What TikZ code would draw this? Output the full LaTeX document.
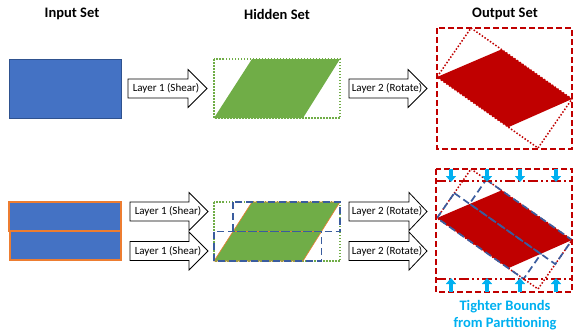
\documentclass[tikz,border=0pt]{standalone}
\usepackage{fontspec}
\setmainfont{Carlito}
\usetikzlibrary{arrows.meta}
\definecolor{inblue}{HTML}{4472C4}
\definecolor{inborder}{HTML}{2F528F}
\definecolor{orng}{HTML}{ED7D31}
\definecolor{grn}{HTML}{70AD47}
\definecolor{dred}{HTML}{C00000}
\definecolor{dblue}{HTML}{3A5C9E}
\definecolor{lblue}{HTML}{00B0F0}
\newcommand\blockarr[6]{%
  \draw[blockarrow] (#2,#5-9.5) -- (#3,#5-9.5) -- (#3,#5-19) -- (#4,#5) -- (#3,#5+19) -- (#3,#5+9.5) -- (#2,#5+9.5) -- cycle;
  \node[alabel] (#1) at (#2+38,#5) {#6};}
\begin{document}
\begin{tikzpicture}[x=1pt,y=-1pt,
  title/.style={font=\bfseries\fontsize{14.5}{17}\selectfont, inner sep=0pt},
  alabel/.style={font=\fontsize{11}{13}\selectfont, inner sep=0pt},
  blockarrow/.style={draw=black, fill=white, line width=0.8pt, line join=miter},
  inrect/.style={fill=inblue, draw=inborder, line width=0.6pt},
  inrectp/.style={fill=inblue, draw=orng, line width=1.6pt},
  greendot/.style={draw=grn, line width=1.5pt, dash pattern=on 1.5pt off 1.5pt},
  greenfill/.style={fill=grn},
  greenfillp/.style={fill=grn, draw=orng, line width=0.6pt},
  bluedash/.style={draw=dblue, line width=1.7pt, dash pattern=on 7pt off 4pt},
  reddash/.style={draw=dred, line width=2pt, dash pattern=on 6pt off 3pt},
  reddot/.style={draw=dred, line width=1.5pt, dash pattern=on 1.5pt off 1.8pt},
  redfill/.style={fill=dred},
  reddashdot/.style={draw=dred, line width=1.5pt, dash pattern=on 10pt off 3pt on 2pt off 3pt on 2pt off 3pt},
  bluearr/.style={draw=lblue, line width=3.5pt, -{Triangle[width=10pt,length=6pt]}},
  note/.style={font=\bfseries\fontsize{14.5}{17}\selectfont, text=lblue, align=center, inner sep=0pt}
]
\useasboundingbox (0,0) rectangle (574,335);

% titles
\node[title] (tin) at (72,14) {Input Set};
\node[title] (thid) at (277,14) {Hidden Set};
\node[title] (tout) at (505,14) {Output Set};

% ---------- top row ----------
\path[inrect] (9,59) rectangle (121,118);
\blockarr{a1}{128}{188}{207}{88.5}{Layer 1 (Shear)}
\path[greenfill] (252,59) -- (340,59) -- (303,118) -- (214,118) -- cycle;
\draw[greendot] (214,59) rectangle (340,118);
\blockarr{a2}{349}{408}{427}{88.5}{Layer 2 (Rotate)}
\path[redfill] (501.5,49.4) -- (572,99) -- (508.3,127.2) -- (437,77) -- cycle;
\draw[reddot] (471,28) -- (572,99) -- (538,148) -- (437,77) -- cycle;
\draw[reddash] (437,28) rectangle (572,149);

% ---------- bottom row ----------
\path[inrectp] (9,202) rectangle (121,231);
\path[inrectp] (10,231) rectangle (121,260);
\blockarr{b1}{130}{189}{208}{211.5}{Layer 1 (Shear)}
\blockarr{b2}{130}{189}{208}{251}{Layer 1 (Shear)}

\draw[greendot] (214,202) rectangle (340,261);
\path[greenfillp] (252,202) -- (340,202) -- (321.5,231.5) -- (233,231.5) -- cycle;
\path[greenfillp] (233,231.5) -- (321.5,231.5) -- (303,261) -- (214,261) -- cycle;
\draw[bluedash] (233,202) rectangle (340,231.5);
\draw[bluedash] (214,231.5) rectangle (321.5,261);

\blockarr{c1}{349}{409}{427}{211.5}{Layer 2 (Rotate)}
\blockarr{c2}{349}{409}{427}{251}{Layer 2 (Rotate)}

\path[redfill] (501.5,190.4) -- (572,240) -- (508.3,268.2) -- (437,218) -- cycle;
\draw[reddot] (471,169) -- (572,240) -- (538,289) -- (437,218) -- cycle;
\draw[bluedash] (486.2,179.7) -- (572,240) -- (555.3,264.1) -- (469.5,203.8) -- cycle;
\draw[bluedash] (454.3,193.1) -- (540.9,254) -- (523.6,278.9) -- (437,218) -- cycle;
\draw[reddash] (436,169) rectangle (572,292);
\coordinate (tl) at (436,181);
\coordinate (tr) at (572,181);
\coordinate (bl) at (436,279);
\coordinate (br) at (572,279);
\draw[reddashdot] (tl) -- (tr);
\draw[reddashdot] (bl) -- (br);
\foreach \xx in {451,487,520,556} {
  \coordinate (ts\xx) at (\xx,169);
  \coordinate (te\xx) at (\xx,182);
  \coordinate (bs\xx) at (\xx,292);
  \coordinate (be\xx) at (\xx,278);
  \draw[bluearr] (ts\xx) -- (te\xx);
  \draw[bluearr] (bs\xx) -- (be\xx);
}
\node[note] (tb) at (505,315.5) {Tighter Bounds\\from Partitioning};
\end{tikzpicture}
\end{document}
